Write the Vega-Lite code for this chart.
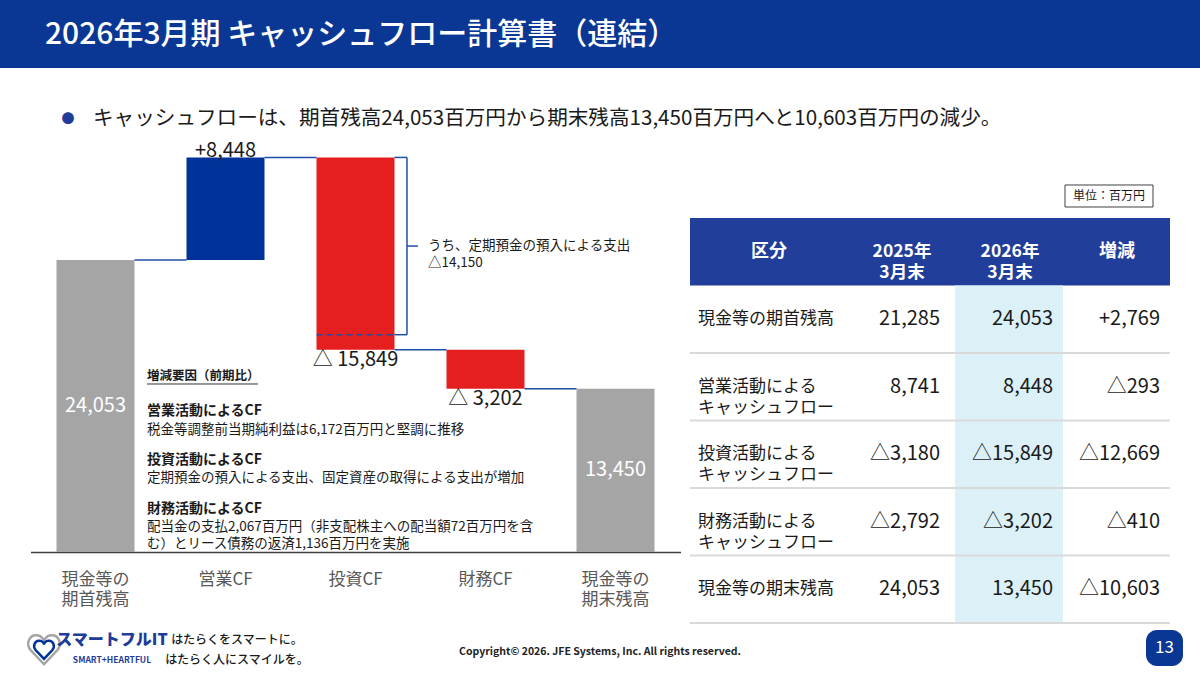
{
  "$schema": "https://vega.github.io/schema/vega-lite/v6.json",
  "background": "white",
  "padding": 0,
  "config": {"view": {"stroke": null}, "font": "Noto Sans CJK JP"},
  "datasets": {
    "waterfall": [
      {"cat": "現金等の\n期首残高", "start": 0, "end": 24053, "label": "24,053", "type": "total"},
      {"cat": "営業CF", "start": 24053, "end": 32501, "label": "+8,448", "type": "up"},
      {"cat": "投資CF", "start": 32501, "end": 16652, "label": "△ 15,849", "type": "down"},
      {"cat": "財務CF", "start": 16652, "end": 13450, "label": "△ 3,202", "type": "down"},
      {"cat": "現金等の\n期末残高", "start": 0, "end": 13450, "label": "13,450", "type": "total"}
    ],
    "connectors": [
      {"from": "現金等の\n期首残高", "to": "営業CF", "level": 24053},
      {"from": "営業CF", "to": "投資CF", "level": 32501},
      {"from": "投資CF", "to": "財務CF", "level": 16652},
      {"from": "財務CF", "to": "現金等の\n期末残高", "level": 13450}
    ],
    "bracket": [
      {"cat": "投資CF", "top": 32501, "bottom": 17900, "note": "うち、定期預金の預入による支出\n△14,150"}
    ],
    "bullet": [
      {"dot": "●", "text": "キャッシュフローは、期首残高24,053百万円から期末残高13,450百万円へと10,603百万円の減少。"}
    ],
    "notesHeading": [{"heading": "増減要因（前期比）"}],
    "notes": [
      {"block": "営業", "title": "営業活動によるCF", "body": "税金等調整前当期純利益は6,172百万円と堅調に推移"},
      {"block": "投資", "title": "投資活動によるCF", "body": "定期預金の預入による支出、固定資産の取得による支出が増加"},
      {"block": "財務", "title": "財務活動によるCF", "body": "配当金の支払2,067百万円（非支配株主への配当額72百万円を含\nむ）とリース債務の返済1,136百万円を実施"}
    ],
    "tableHeader": [
      {"label": "区分", "y2025": "2025年\n3月末", "y2026": "2026年\n3月末", "diff": "増減"}
    ],
    "table": [
      {"label": "現金等の期首残高", "y2025": "21,285", "y2026": "24,053", "diff": "+2,769"},
      {"label": "営業活動による\nキャッシュフロー", "y2025": "8,741", "y2026": "8,448", "diff": "△293"},
      {"label": "投資活動による\nキャッシュフロー", "y2025": "△3,180", "y2026": "△15,849", "diff": "△12,669"},
      {"label": "財務活動による\nキャッシュフロー", "y2025": "△2,792", "y2026": "△3,202", "diff": "△410"},
      {"label": "現金等の期末残高", "y2025": "24,053", "y2026": "13,450", "diff": "△10,603"}
    ],
    "unit": [{"label": "単位", "text": "単位：百万円"}]
  },
  "spacing": 7,
  "bounds": "flush",
  "vconcat": [
    {
      "width": 1200,
      "height": 68,
      "view": {"fill": "#0a3794", "stroke": null},
      "title": {"text": "2026年3月期 キャッシュフロー計算書（連結）", "anchor": "start", "frame": "group", "orient": "top", "offset": -65, "dx": 45, "baseline": "middle", "fontSize": 30, "fontWeight": 500, "color": "white"},
      "data": {"values": []},
      "mark": "point"
    },
    {
      "width": 1200,
      "height": 548,
      "resolve": {"scale": {"x": "independent", "y": "independent"}},
      "layer": [
        {
          "layer": [
            {
              "data": {"name": "waterfall"},
              "mark": {"type": "bar"},
              "encoding": {
                "x": {"field": "cat", "type": "nominal", "sort": null, "title": null,
                  "scale": {"domain": ["現金等の\n期首残高", "営業CF", "投資CF", "財務CF", "現金等の\n期末残高"], "range": [30.5, 680.5], "paddingInner": 0.4, "paddingOuter": 0.2},
                  "axis": {"offset": -71, "labelExpr": "split(datum.label, '\\n')", "labelAngle": 0, "ticks": false, "tickSize": 0, "domainColor": "#404040", "domainWidth": 1.5, "labelFontSize": 17, "labelColor": "#595959", "labelPadding": 19, "labelLineHeight": 20, "labelBaseline": "top"}},
                "y": {"field": "start", "type": "quantitative", "title": null, "scale": {"domain": [0, 33072], "range": [477, 75.5], "nice": false, "zero": true}, "axis": null},
                "y2": {"field": "end"},
                "color": {"field": "type", "type": "nominal", "scale": {"domain": ["total", "up", "down"], "range": ["#a5a5a5", "#00339a", "#e51f1f"]}, "legend": null}
              }
            },
            {
              "data": {"name": "connectors"},
              "mark": {"type": "rule", "color": "#1f4ea6", "strokeWidth": 1.5},
              "encoding": {
                "x": {"field": "from", "type": "nominal", "bandPosition": 1, "title": null},
                "x2": {"field": "to", "bandPosition": 0},
                "y": {"field": "level", "type": "quantitative", "title": null}
              }
            },
            {
              "data": {"name": "bracket"},
              "mark": {"type": "rule", "color": "#1f4ea6", "strokeWidth": 1.5},
              "encoding": {
                "x": {"field": "cat", "type": "nominal", "bandPosition": 1, "title": null},
                "x2": {"field": "cat", "bandPosition": 1.16},
                "y": {"field": "top", "type": "quantitative", "title": null}
              }
            },
            {
              "data": {"name": "bracket"},
              "mark": {"type": "rule", "color": "#1f4ea6", "strokeWidth": 1.5},
              "encoding": {
                "x": {"field": "cat", "type": "nominal", "bandPosition": 1.16, "title": null},
                "y": {"field": "top", "type": "quantitative", "title": null},
                "y2": {"field": "bottom"}
              }
            },
            {
              "data": {"name": "bracket"},
              "mark": {"type": "rule", "color": "#1f4ea6", "strokeWidth": 1.5},
              "encoding": {
                "x": {"field": "cat", "type": "nominal", "bandPosition": 1, "title": null},
                "x2": {"field": "cat", "bandPosition": 1.16},
                "y": {"field": "bottom", "type": "quantitative", "title": null}
              }
            },
            {
              "data": {"name": "bracket"},
              "mark": {"type": "rule", "color": "#1f4ea6", "strokeWidth": 1.5, "strokeDash": [6, 4]},
              "encoding": {
                "x": {"field": "cat", "type": "nominal", "bandPosition": 0, "title": null},
                "x2": {"field": "cat", "bandPosition": 1},
                "y": {"field": "bottom", "type": "quantitative", "title": null}
              }
            },
            {
              "data": {"name": "bracket"},
              "transform": [{"fold": ["top", "bottom"], "as": ["edge", "v"]}],
              "mark": {"type": "rule", "color": "#1f4ea6", "strokeWidth": 1.5},
              "encoding": {
                "x": {"field": "cat", "type": "nominal", "bandPosition": 1.16, "title": null},
                "x2": {"field": "cat", "bandPosition": 1.3},
                "y": {"aggregate": "mean", "field": "v", "type": "quantitative", "title": null}
              }
            },
            {
              "data": {"name": "bracket"},
              "transform": [{"fold": ["top", "bottom"], "as": ["edge", "v"]}],
              "mark": {"type": "text", "align": "left", "baseline": "middle", "lineBreak": "\n", "fontSize": 13.5, "lineHeight": 17, "color": "#1a1a1a"},
              "encoding": {
                "x": {"field": "cat", "type": "nominal", "bandPosition": 1.43, "title": null},
                "y": {"aggregate": "mean", "field": "v", "type": "quantitative", "title": null},
                "text": {"field": "note"}
              }
            },
            {
              "data": {"name": "waterfall"},
              "transform": [{"filter": "datum.type == 'up'"}],
              "mark": {"type": "text", "baseline": "alphabetic", "fontSize": 20, "color": "#1a1a1a"},
              "encoding": {
                "x": {"field": "cat", "type": "nominal", "title": null},
                "y": {"field": "end", "type": "quantitative", "title": null},
                "text": {"field": "label"}
              }
            },
            {
              "data": {"name": "waterfall"},
              "transform": [{"filter": "datum.type == 'down'"}],
              "mark": {"type": "text", "baseline": "top", "fontSize": 20, "color": "#1a1a1a"},
              "encoding": {
                "x": {"field": "cat", "type": "nominal", "title": null},
                "y": {"field": "end", "type": "quantitative", "title": null},
                "text": {"field": "label"}
              }
            },
            {
              "data": {"name": "waterfall"},
              "transform": [{"filter": "datum.type == 'total'"}, {"fold": ["start", "end"], "as": ["edge", "v"]}],
              "mark": {"type": "text", "baseline": "middle", "fontSize": 20, "color": "white"},
              "encoding": {
                "x": {"field": "cat", "type": "nominal", "title": null},
                "y": {"aggregate": "mean", "field": "v", "type": "quantitative", "title": null},
                "text": {"field": "label"}
              }
            },
            {
              "data": {"name": "bullet"},
              "mark": {"type": "text", "align": "center", "baseline": "middle", "fontSize": 13, "color": "#1f3c99"},
              "encoding": {
                "x": {"datum": "現金等の\n期首残高", "type": "nominal", "bandPosition": 0.147, "title": null},
                "y": {"datum": 35667, "type": "quantitative", "title": null},
                "text": {"field": "dot"}
              }
            },
            {
              "data": {"name": "bullet"},
              "mark": {"type": "text", "align": "left", "baseline": "middle", "fontSize": 20.6, "color": "#1a1a1a"},
              "encoding": {
                "x": {"datum": "現金等の\n期首残高", "type": "nominal", "bandPosition": 0.468, "title": null},
                "y": {"datum": 35667, "type": "quantitative", "title": null},
                "text": {"field": "text"}
              }
            },
            {
              "data": {"name": "notesHeading"},
              "mark": {"type": "text", "align": "left", "baseline": "middle", "fontSize": 12.5, "fontWeight": "bold", "color": "#1a1a1a"},
              "encoding": {
                "x": {"datum": "現金等の\n期首残高", "type": "nominal", "bandPosition": 1.16, "title": null},
                "y": {"datum": 14498, "type": "quantitative", "title": null},
                "text": {"field": "heading"}
              }
            },
            {
              "data": {"name": "notesHeading"},
              "mark": {"type": "rule", "color": "#333333", "strokeWidth": 1},
              "encoding": {
                "x": {"datum": "現金等の\n期首残高", "type": "nominal", "bandPosition": 1.16, "title": null},
                "x2": {"datum": "営業CF", "bandPosition": 0.917},
                "y": {"datum": 13839, "type": "quantitative", "title": null}
              }
            },
            {
              "data": {"name": "notes"},
              "transform": [{"filter": "datum.block == '営業'"}],
              "mark": {"type": "text", "align": "left", "baseline": "top", "fontSize": 14, "fontWeight": "bold", "color": "#1a1a1a"},
              "encoding": {
                "x": {"datum": "現金等の\n期首残高", "type": "nominal", "bandPosition": 1.16, "title": null},
                "y": {"datum": 12166, "type": "quantitative", "title": null},
                "text": {"field": "title"}
              }
            },
            {
              "data": {"name": "notes"},
              "transform": [{"filter": "datum.block == '営業'"}],
              "mark": {"type": "text", "align": "left", "baseline": "top", "fontSize": 13.5, "color": "#1a1a1a"},
              "encoding": {
                "x": {"datum": "現金等の\n期首残高", "type": "nominal", "bandPosition": 1.16, "title": null},
                "y": {"datum": 10667, "type": "quantitative", "title": null},
                "text": {"field": "body"}
              }
            },
            {
              "data": {"name": "notes"},
              "transform": [{"filter": "datum.block == '投資'"}],
              "mark": {"type": "text", "align": "left", "baseline": "top", "fontSize": 14, "fontWeight": "bold", "color": "#1a1a1a"},
              "encoding": {
                "x": {"datum": "現金等の\n期首残高", "type": "nominal", "bandPosition": 1.16, "title": null},
                "y": {"datum": 8130, "type": "quantitative", "title": null},
                "text": {"field": "title"}
              }
            },
            {
              "data": {"name": "notes"},
              "transform": [{"filter": "datum.block == '投資'"}],
              "mark": {"type": "text", "align": "left", "baseline": "top", "fontSize": 13.5, "color": "#1a1a1a"},
              "encoding": {
                "x": {"datum": "現金等の\n期首残高", "type": "nominal", "bandPosition": 1.16, "title": null},
                "y": {"datum": 6631, "type": "quantitative", "title": null},
                "text": {"field": "body"}
              }
            },
            {
              "data": {"name": "notes"},
              "transform": [{"filter": "datum.block == '財務'"}],
              "mark": {"type": "text", "align": "left", "baseline": "top", "fontSize": 14, "fontWeight": "bold", "color": "#1a1a1a"},
              "encoding": {
                "x": {"datum": "現金等の\n期首残高", "type": "nominal", "bandPosition": 1.16, "title": null},
                "y": {"datum": 4094, "type": "quantitative", "title": null},
                "text": {"field": "title"}
              }
            },
            {
              "data": {"name": "notes"},
              "transform": [{"filter": "datum.block == '財務'"}],
              "mark": {"type": "text", "align": "left", "baseline": "top", "lineBreak": "\n", "lineHeight": 17, "fontSize": 13.5, "color": "#1a1a1a"},
              "encoding": {
                "x": {"datum": "現金等の\n期首残高", "type": "nominal", "bandPosition": 1.16, "title": null},
                "y": {"datum": 2677, "type": "quantitative", "title": null},
                "text": {"field": "body"}
              }
            }
          ]
        },
        {
          "layer": [
            {
              "data": {"name": "tableHeader"},
              "mark": {"type": "rect", "color": "#213e9a"},
              "encoding": {
                "x": {"datum": 0, "type": "quantitative", "scale": {"domain": [0, 480], "range": [690, 1170], "nice": false, "zero": true}, "axis": null, "title": null},
                "x2": {"datum": 480},
                "y": {"field": "label", "type": "nominal", "title": null, "axis": null,
                  "scale": {"domain": ["単位", "区分", "現金等の期首残高", "営業活動による\nキャッシュフロー", "投資活動による\nキャッシュフロー", "財務活動による\nキャッシュフロー", "現金等の期末残高"], "range": [75.5, 548], "paddingInner": 0, "paddingOuter": 0}}
              }
            },
            {
              "data": {"name": "table"},
              "mark": {"type": "rect", "color": "#dcf0f8"},
              "encoding": {
                "x": {"datum": 265, "type": "quantitative", "title": null},
                "x2": {"datum": 373},
                "y": {"field": "label", "type": "nominal", "title": null}
              }
            },
            {
              "data": {"name": "table"},
              "mark": {"type": "rule", "color": "#d9d9d9", "strokeWidth": 2},
              "encoding": {
                "x": {"datum": 0, "type": "quantitative", "title": null},
                "x2": {"datum": 480},
                "y": {"field": "label", "type": "nominal", "bandPosition": 1, "title": null}
              }
            },
            {
              "data": {"name": "table"},
              "mark": {"type": "text", "align": "left", "baseline": "middle", "lineBreak": "\n", "fontSize": 17, "lineHeight": 21, "color": "#1a1a1a"},
              "encoding": {
                "x": {"datum": 8, "type": "quantitative", "title": null},
                "y": {"field": "label", "type": "nominal", "title": null},
                "text": {"field": "label"}
              }
            },
            {
              "data": {"name": "table"},
              "mark": {"type": "text", "align": "right", "baseline": "middle", "fontSize": 20, "color": "#1a1a1a"},
              "encoding": {
                "x": {"datum": 250, "type": "quantitative", "title": null},
                "y": {"field": "label", "type": "nominal", "title": null},
                "text": {"field": "y2025"}
              }
            },
            {
              "data": {"name": "table"},
              "mark": {"type": "text", "align": "right", "baseline": "middle", "fontSize": 20, "color": "#1a1a1a"},
              "encoding": {
                "x": {"datum": 363, "type": "quantitative", "title": null},
                "y": {"field": "label", "type": "nominal", "title": null},
                "text": {"field": "y2026"}
              }
            },
            {
              "data": {"name": "table"},
              "mark": {"type": "text", "align": "right", "baseline": "middle", "fontSize": 20, "color": "#1a1a1a"},
              "encoding": {
                "x": {"datum": 470, "type": "quantitative", "title": null},
                "y": {"field": "label", "type": "nominal", "title": null},
                "text": {"field": "diff"}
              }
            },
            {
              "data": {"name": "tableHeader"},
              "mark": {"type": "text", "align": "center", "baseline": "middle", "fontSize": 18, "fontWeight": "bold", "color": "white"},
              "encoding": {
                "x": {"datum": 79, "type": "quantitative", "title": null},
                "y": {"field": "label", "type": "nominal", "title": null},
                "text": {"field": "label"}
              }
            },
            {
              "data": {"name": "tableHeader"},
              "mark": {"type": "text", "align": "center", "baseline": "middle", "lineBreak": "\n", "lineHeight": 21, "fontSize": 17.5, "fontWeight": "bold", "color": "white"},
              "encoding": {
                "x": {"datum": 212, "type": "quantitative", "title": null},
                "y": {"field": "label", "type": "nominal", "title": null},
                "text": {"field": "y2025"}
              }
            },
            {
              "data": {"name": "tableHeader"},
              "mark": {"type": "text", "align": "center", "baseline": "middle", "lineBreak": "\n", "lineHeight": 21, "fontSize": 17.5, "fontWeight": "bold", "color": "white"},
              "encoding": {
                "x": {"datum": 320, "type": "quantitative", "title": null},
                "y": {"field": "label", "type": "nominal", "title": null},
                "text": {"field": "y2026"}
              }
            },
            {
              "data": {"name": "tableHeader"},
              "mark": {"type": "text", "align": "center", "baseline": "middle", "fontSize": 18, "fontWeight": "bold", "color": "white"},
              "encoding": {
                "x": {"datum": 427, "type": "quantitative", "title": null},
                "y": {"field": "label", "type": "nominal", "title": null},
                "text": {"field": "diff"}
              }
            },
            {
              "data": {"name": "unit"},
              "mark": {"type": "rect", "fill": "white", "stroke": "#404040", "strokeWidth": 1},
              "encoding": {
                "x": {"datum": 375, "type": "quantitative", "title": null},
                "x2": {"datum": 463},
                "y": {"field": "label", "type": "nominal", "bandPosition": 0.511, "title": null},
                "y2": {"field": "label", "bandPosition": 0.837}
              }
            },
            {
              "data": {"name": "unit"},
              "mark": {"type": "text", "align": "center", "baseline": "middle", "fontSize": 12, "color": "#1a1a1a"},
              "encoding": {
                "x": {"datum": 419, "type": "quantitative", "title": null},
                "y": {"field": "label", "type": "nominal", "bandPosition": 0.674, "title": null},
                "text": {"field": "text"}
              }
            }
          ]
        }
      ]
    },
    {
      "spacing": 0,
      "bounds": "flush",
      "hconcat": [
        {"width": 27, "height": 40, "data": {"values": []}, "mark": "point"},
        {
          "width": 34,
          "height": 40,
          "data": {"values": [{"part": "outer"}, {"part": "inner"}]},
          "mark": {"type": "point", "shape": "M0,0.95 L-0.9,0 C-1.25,-0.45 -0.95,-1.05 -0.45,-0.98 C-0.2,-0.95 0,-0.75 0,-0.55 C0,-0.75 0.2,-0.95 0.45,-0.98 C0.95,-1.05 1.25,-0.45 0.9,0 Z", "filled": false, "strokeWidth": 2.5, "opacity": 1},
          "encoding": {
            "size": {"field": "part", "type": "nominal", "scale": {"domain": ["outer", "inner"], "range": [900, 350]}, "legend": null},
            "color": {"field": "part", "type": "nominal", "scale": {"domain": ["outer", "inner"], "range": ["#f2a33a", "#3fb2e4"]}, "legend": null}
          }
        },
        {
          "width": 102,
          "height": 40,
          "data": {"values": [{"line": "1", "text": "スマートフルIT"}, {"line": "2", "text": "SMART+HEARTFUL"}]},
          "layer": [
            {
              "transform": [{"filter": "datum.line == '1'"}],
              "mark": {"type": "text", "baseline": "middle", "fontSize": 16, "fontWeight": 900, "color": "#1f3c99"},
              "encoding": {
                "y": {"field": "line", "type": "nominal", "bandPosition": 0.5, "axis": null, "scale": {"domain": ["1", "2"], "paddingInner": 0, "paddingOuter": 0}},
                "text": {"field": "text"}
              }
            },
            {
              "transform": [{"filter": "datum.line == '2'"}],
              "mark": {"type": "text", "baseline": "middle", "fontSize": 8.5, "fontWeight": "bold", "color": "#1f3c99"},
              "encoding": {
                "y": {"field": "line", "type": "nominal", "bandPosition": 0.35, "axis": null},
                "text": {"field": "text"}
              }
            }
          ]
        },
        {
          "width": 148,
          "height": 40,
          "data": {"values": [{"line": "1", "text": "はたらくをスマートに。"}, {"line": "2", "text": "はたらく人にスマイルを。"}]},
          "mark": {"type": "text", "baseline": "middle", "fontSize": 12, "fontWeight": 500, "color": "#1a1a1a"},
          "encoding": {
            "y": {"field": "line", "type": "nominal", "bandPosition": 0.3, "axis": null, "scale": {"paddingInner": 0, "paddingOuter": 0}},
            "text": {"field": "text"}
          }
        },
        {
          "width": 578,
          "height": 44,
          "data": {"values": [{"text": "Copyright© 2026. JFE Systems, Inc. All rights reserved."}]},
          "mark": {"type": "text", "baseline": "middle", "fontSize": 10.5, "fontWeight": 600, "color": "#222222"},
          "encoding": {"text": {"field": "text"}}
        },
        {"width": 257, "height": 40, "data": {"values": []}, "mark": "point"},
        {
          "width": 37,
          "height": 36,
          "view": {"fill": "#0a3794", "cornerRadius": 11, "stroke": null},
          "data": {"values": [{"page": "13"}]},
          "mark": {"type": "text", "baseline": "middle", "fontSize": 17, "color": "white"},
          "encoding": {"text": {"field": "page"}}
        }
      ]
    }
  ]
}
